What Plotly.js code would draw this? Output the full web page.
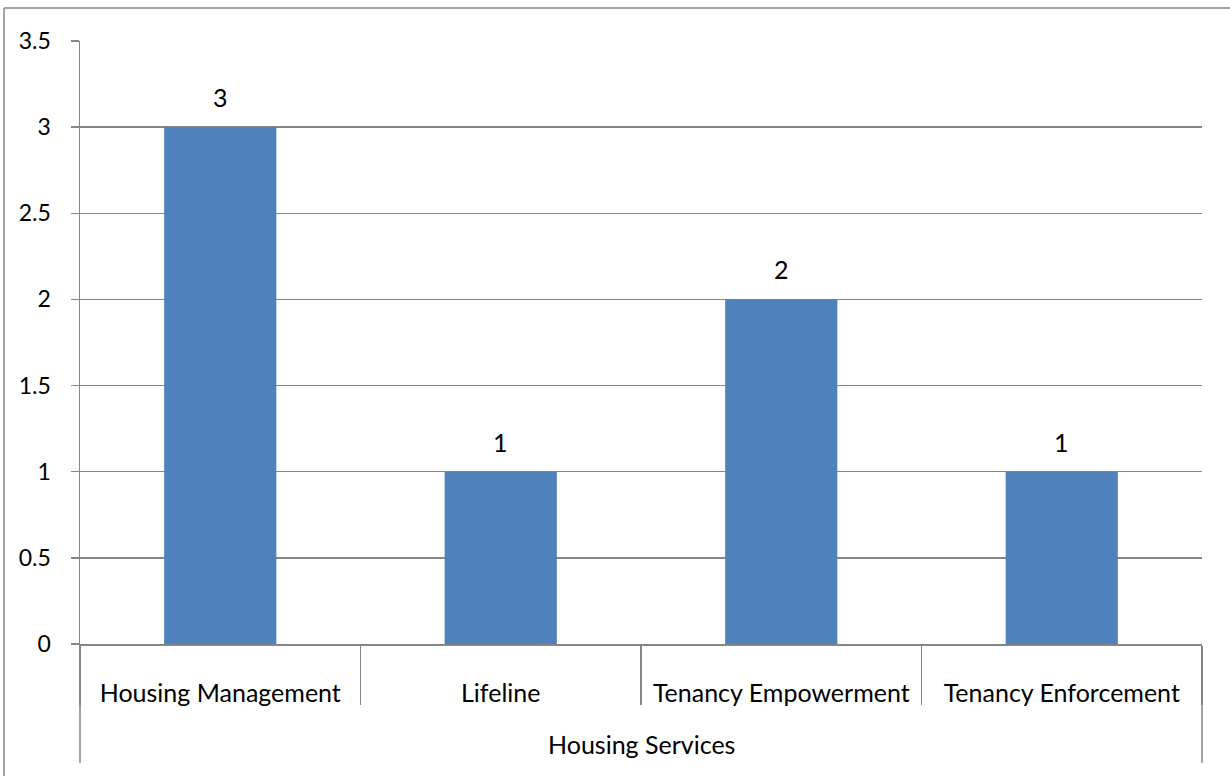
<!DOCTYPE html>
<html>
<head>
<meta charset="utf-8">
<script src="https://cdn.plot.ly/plotly-3.0.1.min.js"></script>
<style>
  html, body { margin: 0; padding: 0; background: #ffffff; }
  #chart { width: 1230px; height: 776px; }
</style>
</head>
<body>
<div id="chart"></div>
<script>
// Sub-categories of the service group and their counts
const groupName = "Housing Services";
const services = ["Housing Management", "Lifeline", "Tenancy Empowerment", "Tenancy Enforcement"];
const counts = [3, 1, 2, 1];

const FONT = "Lato, 'Open Sans', sans-serif";
const SIZE = 25;
const GRID = "#868686";

// plot-area geometry in pixels, used to express frame lines in paper units
const W = 1230, H = 776;
const M = { l: 80, r: 28, t: 41, b: 132 };
const PW = W - M.l - M.r, PH = H - M.t - M.b;
const px = v => (v - M.l) / PW;
const py = v => (H - M.b - v) / PH;

const bars = {
  type: "bar",
  x: services,
  y: counts,
  marker: { color: "#4f81bd", line: { width: 0 } },
  hoverinfo: "skip",
  showlegend: false
};

// value labels above each bar
const valueLabels = services.map((s, i) => ({
  xref: "x", yref: "y",
  x: s, y: counts[i],
  text: String(counts[i]),
  showarrow: false,
  yanchor: "middle",
  yshift: 30,
  font: { family: FONT, size: SIZE, color: "#000000" }
}));

const frameLine = { color: GRID, width: 1.5 };

const layout = {
  width: W,
  height: H,
  margin: M,
  paper_bgcolor: "#ffffff",
  plot_bgcolor: "#ffffff",
  bargap: 0.6,
  font: { family: FONT, size: SIZE, color: "#000000" },
  xaxis: {
    type: "category",
    showline: true,
    linecolor: GRID,
    linewidth: 1.5,
    ticks: "outside",
    tickson: "boundaries",
    ticklen: 59,
    tickcolor: GRID,
    tickwidth: 1.5,
    ticklabelstandoff: 26,
    showgrid: false,
    zeroline: false,
    tickfont: { family: FONT, size: SIZE, color: "#000000" }
  },
  yaxis: {
    range: [0, 3.5],
    dtick: 0.5,
    tick0: 0,
    showline: true,
    linecolor: GRID,
    linewidth: 1.5,
    ticks: "outside",
    ticklen: 8,
    tickcolor: GRID,
    tickwidth: 1.5,
    showgrid: true,
    gridcolor: GRID,
    gridwidth: 1.5,
    zeroline: false,
    ticklabelstandoff: 15,
    tickfont: { family: FONT, size: 23, color: "#000000" }
  },
  annotations: valueLabels.concat([
    {
      xref: "paper", yref: "paper",
      x: 0.5, y: py(744),
      text: groupName,
      showarrow: false,
      xanchor: "center", yanchor: "middle",
      font: { family: FONT, size: SIZE, color: "#000000" }
    }
  ]),
  shapes: [
    // group divider lines at both ends of the category axis
    { type: "line", xref: "paper", yref: "paper",
      x0: 0, x1: 0, y0: py(700), y1: py(763), line: frameLine },
    { type: "line", xref: "paper", yref: "paper",
      x0: 1, x1: 1, y0: py(700), y1: py(763), line: frameLine },
    // chart frame: top and left edges
    { type: "line", xref: "paper", yref: "paper",
      x0: px(4), x1: px(W + 10), y0: py(8), y1: py(8), line: frameLine },
    { type: "line", xref: "paper", yref: "paper",
      x0: px(4), x1: px(4), y0: py(8), y1: py(H + 10), line: frameLine }
  ]
};

Plotly.newPlot("chart", [bars], layout, { displayModeBar: false, staticPlot: true });
</script>
</body>
</html>
